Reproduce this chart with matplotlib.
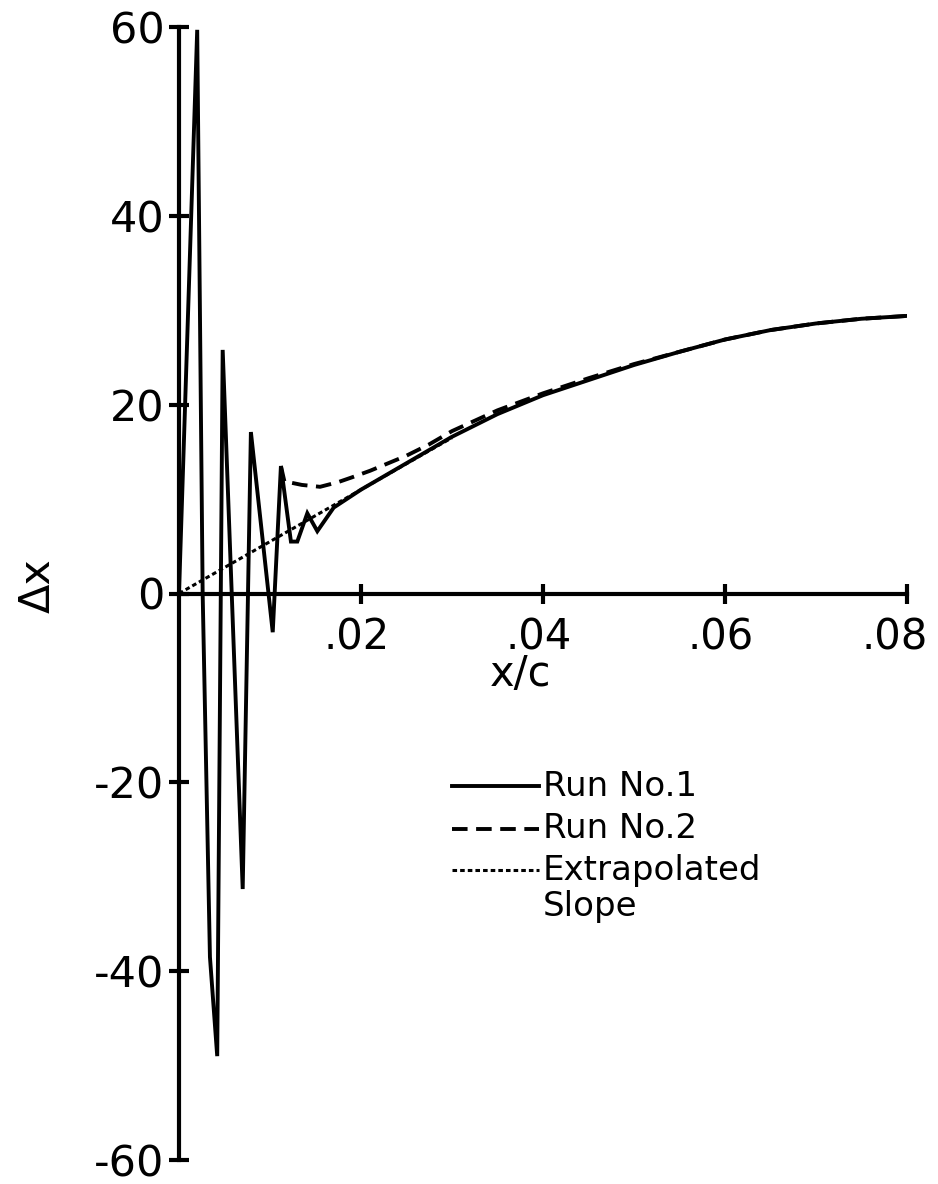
import matplotlib
matplotlib.use("Agg")
import matplotlib.pyplot as plt
from matplotlib.transforms import ScaledTranslation

plt.rcParams["font.family"] = ["DejaVu Sans"]

# Run No. 1: oscillating start, then smooth growth
run1_x = [0.0, 0.0020, 0.0026, 0.0034, 0.0042, 0.0048, 0.0070, 0.0079, 0.0103, 0.0112,
          0.0123, 0.0130, 0.0141, 0.0152, 0.0170, 0.020, 0.025, 0.030, 0.035, 0.040,
          0.045, 0.050, 0.055, 0.060, 0.065, 0.070, 0.075, 0.080]
run1_y = [0.0, 59.7, 0.0, -38.5, -49.0, 25.8, -31.3, 17.1, -4.1, 13.5,
          5.5, 5.5, 8.5, 6.6, 9.1, 11.0, 13.8, 16.6, 19.0, 21.0,
          22.6, 24.2, 25.6, 26.9, 27.9, 28.6, 29.1, 29.4]

# Run No. 2 branches off after the last large peak
run2_x = [0.0112, 0.0116, 0.0120, 0.0135, 0.0155, 0.0175, 0.019, 0.021, 0.023, 0.025,
          0.0275, 0.030, 0.0325, 0.035, 0.040, 0.045, 0.050, 0.055, 0.060, 0.065,
          0.070, 0.075, 0.080]
run2_y = [13.5, 11.8, 11.8, 11.5, 11.3, 11.8, 12.3, 13.0, 13.8, 14.6,
          15.8, 17.2, 18.3, 19.4, 21.2, 22.8, 24.3, 25.6, 26.9, 27.9,
          28.6, 29.1, 29.4]

# Extrapolated slope from the origin
slope_x = [0.0, 0.010, 0.020, 0.030]
slope_y = [0.0, 5.5, 11.0, 16.5]

x_ticks = [0.02, 0.04, 0.06, 0.08]
x_tick_labels = [".02", ".04", ".06", ".08"]
y_ticks = [-60, -40, -20, 0, 20, 40, 60]
y_tick_labels = ["-60", "-40", "-20", "0", "20", "40", "60"]

fig = plt.figure(figsize=(9.38, 11.84), dpi=100, facecolor="white")
ax = fig.add_axes([179 / 938, 1 - 1160 / 1184, (907 - 179) / 938, (1160 - 27) / 1184])

lw = 2.8
dashed = (0, (4.0, 2.2))
dotted = (0, (1.5, 1.0))
ax.plot(run1_x, run1_y, color="black", lw=lw, solid_joinstyle="miter")
ax.plot(run2_x, run2_y, color="black", lw=lw, linestyle=dashed)
ax.plot(slope_x, slope_y, color="black", lw=2.2, linestyle=dotted)

ax.set_xlim(0, 0.08)
ax.set_ylim(-60, 60)

for side in ["top", "right"]:
    ax.spines[side].set_visible(False)
ax.spines["bottom"].set_position(("data", 0))
ax.spines["left"].set_position(("data", 0))
for side in ["bottom", "left"]:
    ax.spines[side].set_linewidth(3)

ax.set_xticks(x_ticks)
ax.set_xticklabels(x_tick_labels)
ax.set_yticks(y_ticks)
ax.set_yticklabels(y_tick_labels)
ax.tick_params(axis="both", direction="inout", length=15, width=3, labelsize=31)
ax.tick_params(axis="x", pad=9, labelsize=30)
ax.tick_params(axis="y", pad=3)

# nudge the x tick labels a little to the left, the last one more
for i, lab in enumerate(ax.get_xticklabels()):
    shift = -12 if i == len(x_ticks) - 1 else -4
    lab.set_transform(lab.get_transform() + ScaledTranslation(shift / 100, 0, fig.dpi_scale_trans))

ax.text(0.0375, -8.5, "x/c", ha="center", va="center", fontsize=30)
ax.text(-0.0155, 0.8, "Δx", ha="center", va="center", fontsize=31, rotation=90)

# Key
key_x0, key_x1, key_tx = 0.0300, 0.0396, 0.0400
key_fs = 24.5
ax.plot([key_x0, key_x1], [-20.4, -20.4], color="black", lw=lw)
ax.text(key_tx, -20.4, "Run No.1", va="center", ha="left", fontsize=key_fs)
ax.plot([key_x0, key_x1], [-24.9, -24.9], color="black", lw=lw, linestyle=dashed)
ax.text(key_tx, -24.9, "Run No.2", va="center", ha="left", fontsize=key_fs)
ax.plot([key_x0, key_x1], [-29.3, -29.3], color="black", lw=2.2, linestyle=dotted)
ax.text(key_tx, -29.3, "Extrapolated", va="center", ha="left", fontsize=key_fs)
ax.text(key_tx, -33.1, "Slope", va="center", ha="left", fontsize=key_fs)

fig.savefig("out.png", dpi=100, facecolor="white")
